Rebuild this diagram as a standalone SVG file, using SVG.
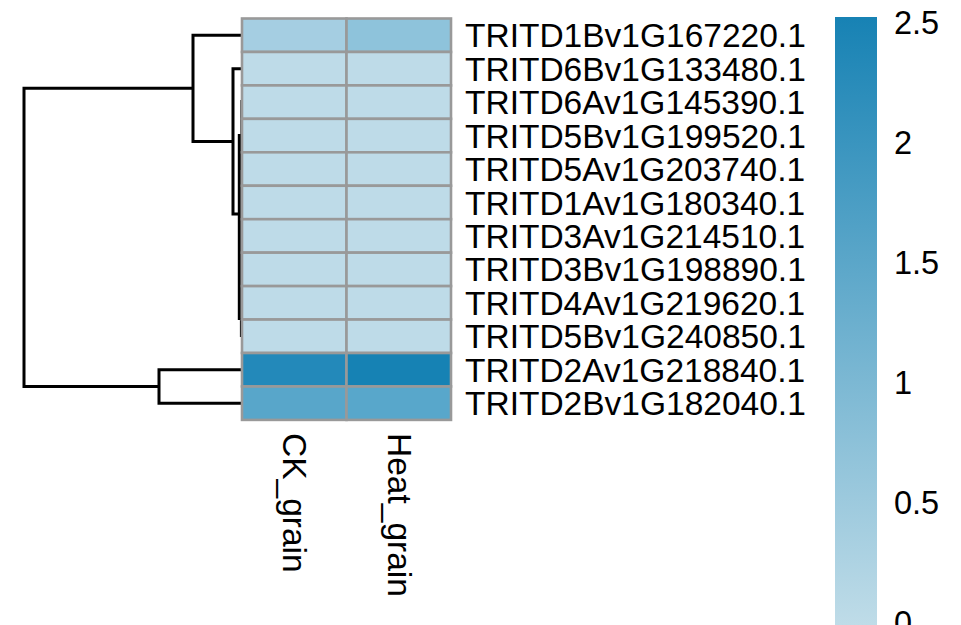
<svg xmlns="http://www.w3.org/2000/svg" width="961" height="625" viewBox="0 0 961 625">
<style>
.cell{stroke:#999999;stroke-width:2.6}
.lbl{font-family:"Liberation Sans",Arial,sans-serif;font-size:33.5px;fill:#000}
.leg{font-family:"Liberation Sans",Arial,sans-serif;font-size:32.5px;fill:#000}
.den{fill:none;stroke:#000;stroke-width:3;stroke-linejoin:miter}
.den2{fill:none;stroke:#000;stroke-width:1.6}
.lo{fill:#BEDBE8}
</style>
<defs>
<linearGradient id="grad" x1="0" y1="0" x2="0" y2="1">
<stop offset="0" stop-color="#1782B4"/>
<stop offset="1" stop-color="#BFDCE8"/>
</linearGradient>
</defs>
<rect width="961" height="625" fill="#fff"/>
<g id="connectors">
<path class="den" d="M193,88.3 H24 V386.5 H159"/>
<path class="den" d="M242,35.2 H193 V141.4 H233"/>
<path class="den" d="M242,68.7 H233 V214 H239.3"/>
<path class="den" d="M239.3,134 V320"/>
<path class="den2" d="M240.7,318 V337"/>
<path class="den2" d="M241.2,100 V170"/>
<path class="den" d="M242,369.7 H159 V403.2 H242"/>
</g>
<g id="heatmap">
<g id="row0"><rect class="cell" x="242" y="18.5" width="104.5" height="33.45" fill="#A5CEE2"/><rect class="cell" x="346.5" y="18.5" width="104.5" height="33.45" fill="#8EC3DB"/><text class="lbl" x="465" y="47.2">TRITD1Bv1G167220.1</text></g>
<g id="row1"><rect class="cell lo" x="242" y="51.95" width="104.5" height="33.45"/><rect class="cell lo" x="346.5" y="51.95" width="104.5" height="33.45"/><text class="lbl" x="465" y="80.7">TRITD6Bv1G133480.1</text></g>
<g id="row2"><rect class="cell lo" x="242" y="85.4" width="104.5" height="33.45"/><rect class="cell lo" x="346.5" y="85.4" width="104.5" height="33.45"/><text class="lbl" x="465" y="114.1">TRITD6Av1G145390.1</text></g>
<g id="row3"><rect class="cell lo" x="242" y="118.85" width="104.5" height="33.45"/><rect class="cell lo" x="346.5" y="118.85" width="104.5" height="33.45"/><text class="lbl" x="465" y="147.6">TRITD5Bv1G199520.1</text></g>
<g id="row4"><rect class="cell lo" x="242" y="152.3" width="104.5" height="33.45"/><rect class="cell lo" x="346.5" y="152.3" width="104.5" height="33.45"/><text class="lbl" x="465" y="181">TRITD5Av1G203740.1</text></g>
<g id="row5"><rect class="cell lo" x="242" y="185.75" width="104.5" height="33.45"/><rect class="cell lo" x="346.5" y="185.75" width="104.5" height="33.45"/><text class="lbl" x="465" y="214.5">TRITD1Av1G180340.1</text></g>
<g id="row6"><rect class="cell lo" x="242" y="219.2" width="104.5" height="33.45"/><rect class="cell lo" x="346.5" y="219.2" width="104.5" height="33.45"/><text class="lbl" x="465" y="247.9">TRITD3Av1G214510.1</text></g>
<g id="row7"><rect class="cell lo" x="242" y="252.65" width="104.5" height="33.45"/><rect class="cell lo" x="346.5" y="252.65" width="104.5" height="33.45"/><text class="lbl" x="465" y="281.4">TRITD3Bv1G198890.1</text></g>
<g id="row8"><rect class="cell lo" x="242" y="286.1" width="104.5" height="33.45"/><rect class="cell lo" x="346.5" y="286.1" width="104.5" height="33.45"/><text class="lbl" x="465" y="314.8">TRITD4Av1G219620.1</text></g>
<g id="row9"><rect class="cell lo" x="242" y="319.55" width="104.5" height="33.45"/><rect class="cell lo" x="346.5" y="319.55" width="104.5" height="33.45"/><text class="lbl" x="465" y="348.3">TRITD5Bv1G240850.1</text></g>
<g id="row10"><rect class="cell" x="242" y="353" width="104.5" height="33.45" fill="#2389BA"/><rect class="cell" x="346.5" y="353" width="104.5" height="33.45" fill="#1682B4"/><text class="lbl" x="465" y="381.7">TRITD2Av1G218840.1</text></g>
<g id="row11"><rect class="cell" x="242" y="386.45" width="104.5" height="33.45" fill="#58A6CA"/><rect class="cell" x="346.5" y="386.45" width="104.5" height="33.45" fill="#58A7CB"/><text class="lbl" x="465" y="415.2">TRITD2Bv1G182040.1</text></g>
</g>
<g id="col-labels">
<text class="lbl" transform="translate(283,433) rotate(90)">CK_grain</text>
<text class="lbl" transform="translate(387.5,433) rotate(90)">Heat_grain</text>
</g>
<g id="legend">
<rect x="835" y="17" width="42" height="608" fill="url(#grad)"/>
<text class="leg" x="894" y="34">2.5</text>
<text class="leg" x="894" y="154">2</text>
<text class="leg" x="894" y="274">1.5</text>
<text class="leg" x="894" y="394">1</text>
<text class="leg" x="894" y="514">0.5</text>
<text class="leg" x="894" y="634">0</text>
</g>
</svg>
